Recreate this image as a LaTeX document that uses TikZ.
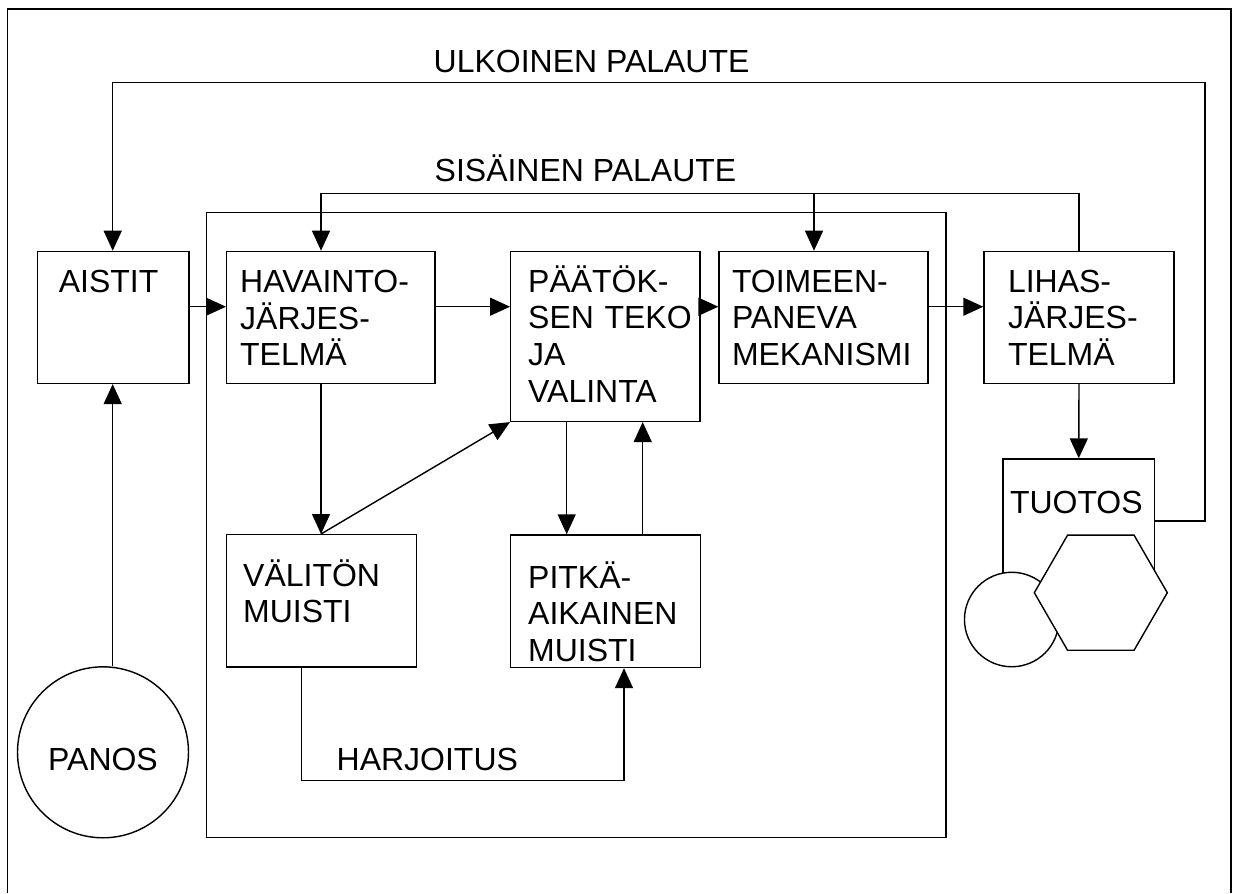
\documentclass[tikz,border=0pt]{standalone}
\usepackage{fontspec}
\setmainfont{Liberation Sans}
\usetikzlibrary{positioning,arrows.meta,shapes.geometric,calc}
\hyphenpenalty=10000

\begin{document}
\begin{tikzpicture}[
  x=0.02cm, y=-0.02cm,
  font=\fontsize{18.2pt}{20.8pt}\selectfont,
  line width=0.8pt,
  lohko/.style n args={4}{draw, fill=white, anchor=north west, align=left,
    inner ysep=0pt, inner xsep=#3, text width=#1-2*#3, text height=#4, text depth=#2-#4},
  pallo/.style={draw, circle, inner sep=0pt},
  nuoli/.style={-{Triangle[length=0.4cm, width=0.36cm]}},
  otsikko/.style={anchor=base west, inner sep=0pt},
]
\useasboundingbox (0,0) rectangle (1239,893);
% kehykset
\draw[line width=1.1pt] (7.5,893) -- (7.5,9) -- (1230.7,9) -- (1230.7,893);
\draw (206.7,212.7) rectangle (946,837.7);
% laatikot
\node[lohko={3.03cm}{2.64cm}{0.43cm}{0.82cm}] (aistit) at (36.7,250.7) {AISTIT};
\node[lohko={4.17cm}{2.64cm}{0.27cm}{0.83cm}] (havainto) at (226,250.7) {HAVAINTO-\\JÄRJES-\\TELMÄ};
\node[lohko={3.79cm}{3.40cm}{0.35cm}{0.82cm}] (paatos) at (510,250.7) {PÄÄTÖK-\\SEN~TEKO\\JA\\VALINTA};
\node[lohko={4.18cm}{2.64cm}{0.26cm}{0.82cm}] (toimeen) at (718.3,250.7) {TOIMEEN-\\PANEVA\\MEKANISMI};
\node[lohko={3.80cm}{2.64cm}{0.48cm}{0.82cm}] (lihas) at (983.3,250.7) {LIHAS-\\JÄRJES-\\TELMÄ};
\node[lohko={3.80cm}{2.65cm}{0.33cm}{1.03cm}] (valiton) at (226,534) {VÄLITÖN\\MUISTI};
\node[lohko={3.80cm}{2.65cm}{0.35cm}{1.06cm}] (pitka) at (510,534.3) {PITKÄ-\\AIKAINEN\\MUISTI};
\node[lohko={3.03cm}{2.48cm}{0.14cm}{1.09cm}] (tuotos) at (1002.3,458.3) {TUOTOS};
% panos ja tuotos
\node[pallo, minimum size=3.42cm, text height=0.734cm, text depth=0pt] (panos) at (103,752.3) {PANOS};
\node[pallo, fill=white, minimum size=1.89cm] (ympyra) at (1011.7,619.5) {};
\node[draw, fill=white, regular polygon, regular polygon sides=6, minimum size=2.66cm, inner sep=0pt] (kuusikulmio) at (1100.8,592.7) {};
% apupisteet
\coordinate (rivi) at (0,306.7);
\coordinate (ulko1) at (1205,82.7);
\coordinate (ulko2) at (112.7,82.7);
\coordinate (sisa1) at (321,193.3);
\coordinate (sisa2) at (814,193.3);
\coordinate (alas) at (566.7,0);
\coordinate (ylos) at (642.7,0);
\coordinate (harj1) at (301.7,780.7);
\coordinate (harj2) at (624,780.7);
% palautteet
\draw[nuoli] (tuotos.east) -| (ulko1) -- (ulko2) -- (ulko2 |- aistit.north);
\draw[nuoli] (lihas.north) |- (sisa1) -- (sisa1 |- havainto.north);
\draw[nuoli] (sisa2) -- (sisa2 |- toimeen.north);
\node[otsikko] (ulkoinen) at (433,72.3) {ULKOINEN PALAUTE};
\node[otsikko] (sisainen) at (434,181.7) {SISÄINEN PALAUTE};
% vaakanuolet
\draw[nuoli] (aistit.east |- rivi) -- (havainto.west |- rivi);
\draw[nuoli] (havainto.east |- rivi) -- (paatos.west |- rivi);
\draw[nuoli] (paatos.east |- rivi) -- (toimeen.west |- rivi);
\draw[nuoli] (toimeen.east |- rivi) -- (lihas.west |- rivi);
% pystynuolet
\draw[nuoli] (ulko2 |- panos.north) -- (ulko2 |- aistit.south);
\draw[nuoli] (lihas.south) -- (tuotos.north);
\draw[nuoli] (sisa1 |- havainto.south) -- (sisa1 |- valiton.north);
\draw[nuoli] (sisa1 |- valiton.north) -- (paatos.south west);
\draw[nuoli] (alas |- paatos.south) -- (alas |- pitka.north);
\draw[nuoli] (ylos |- pitka.north) -- (ylos |- paatos.south);
% harjoitus
\draw[nuoli] (harj1 |- valiton.south) -- (harj1) -- (harj2) -- (harj2 |- pitka.south);
\node[otsikko] (harjoitus) at (336,770.7) {HARJOITUS};
\end{tikzpicture}
\end{document}
